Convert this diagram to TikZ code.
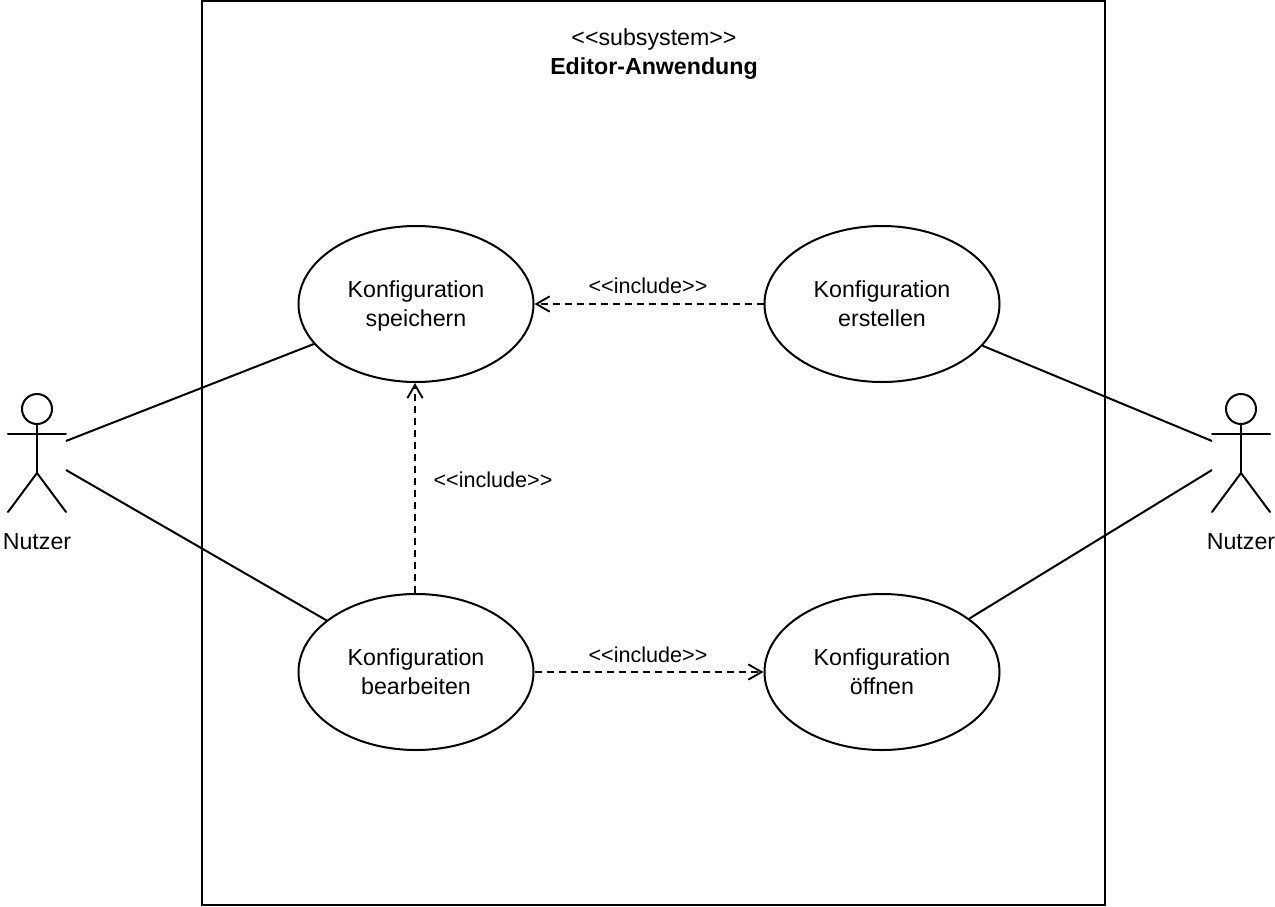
\documentclass[tikz,border=0pt]{standalone}
\usepackage{fontspec}
\setmainfont{Liberation Sans}
\usetikzlibrary{arrows.meta,shapes.geometric}
\newcommand{\firstline}{\rule{0pt}{18.54pt}}
\tikzset{
  x=0.75pt,y=-0.75pt,
  usecase/.style={ellipse,draw=black,line width=1.5pt,minimum width=176.25pt,minimum height=117pt,inner sep=0pt,align=center,font=\fontsize{17.4}{22.2}\selectfont},
  lbl/.style={inner sep=0pt,font=\fontsize{16.2}{19}\selectfont},
  lblb/.style={inner sep=0pt,font=\fontsize{17.4}{19}\selectfont},
  assoc/.style={draw=black,line width=1.5pt},
  dep/.style={draw=black,line width=1.5pt,dash pattern=on 5.25pt off 3.75pt,-{Straight Barb[length=10pt,width=11.5pt,line width=1.4pt]}},
  stick/.style={draw=black,line width=1.5pt,line cap=round},
  head/.style={circle,draw=black,line width=1.5pt,minimum size=22.5pt,inner sep=0pt},
}
\begin{document}
\begin{tikzpicture}
\useasboundingbox (0,0) rectangle (1275,907);
\node[draw=black,line width=1.5pt,minimum width=677.25pt,minimum height=678pt,inner sep=0pt] (sys) at (653.5,453) {};
\node[lblb] (st) at (654,40) {<{}<subsystem>{}>};
\node[lblb,font=\fontsize{17.4}{19}\selectfont\bfseries] (sn) at (654,69) {Editor-Anwendung};

\node[usecase] (sp) at (416,304) {\firstline\strut Konfiguration\\\strut speichern};
\node[usecase] (er) at (882,304) {\firstline\strut Konfiguration\\\strut erstellen};
\node[usecase] (be) at (416,672) {\firstline\strut Konfiguration\\\strut bearbeiten};
\node[usecase] (oe) at (882,672) {\firstline\strut Konfiguration\\\strut öffnen};

% left actor
\node[head] (lh) at (37,409) {};
\coordinate (lhip) at (37,473);
\coordinate (la1) at (8,434); \coordinate (la2) at (66,434);
\coordinate (ll1) at (8,512); \coordinate (ll2) at (66,512);
\draw[stick] (lh) -- (lhip);
\draw[stick] (la1) -- (la2);
\draw[stick] (ll1) -- (lhip) -- (ll2);
\node[lblb] (ln) at (37,542) {Nutzer};

% right actor
\node[head] (rh) at (1241,409) {};
\coordinate (rhip) at (1241,473);
\coordinate (ra1) at (1212,434); \coordinate (ra2) at (1270,434);
\coordinate (rl1) at (1212,512); \coordinate (rl2) at (1270,512);
\draw[stick] (rh) -- (rhip);
\draw[stick] (ra1) -- (ra2);
\draw[stick] (rl1) -- (rhip) -- (rl2);
\node[lblb] (rn) at (1241,542) {Nutzer};

% associations
\coordinate (lt) at (66,441); \coordinate (lb) at (66,470);
\coordinate (rt) at (1212,441); \coordinate (rb) at (1212,470);
\draw[assoc] (lt) -- (sp);
\draw[assoc] (lb) -- (be);
\draw[assoc] (rt) -- (er);
\draw[assoc] (rb) -- (oe);

% includes
\draw[dep] (er) -- (sp);
\draw[dep] ([xshift=-0.75pt]be.north) -- ([xshift=-0.75pt]sp.south);
\draw[dep] (be) -- (oe);
\node[lbl] (i1) at (648,286) {<{}<include>{}>};
\node[lbl] (i2) at (493,480) {<{}<include>{}>};
\node[lbl] (i3) at (648,655) {<{}<include>{}>};
\end{tikzpicture}
\end{document}
